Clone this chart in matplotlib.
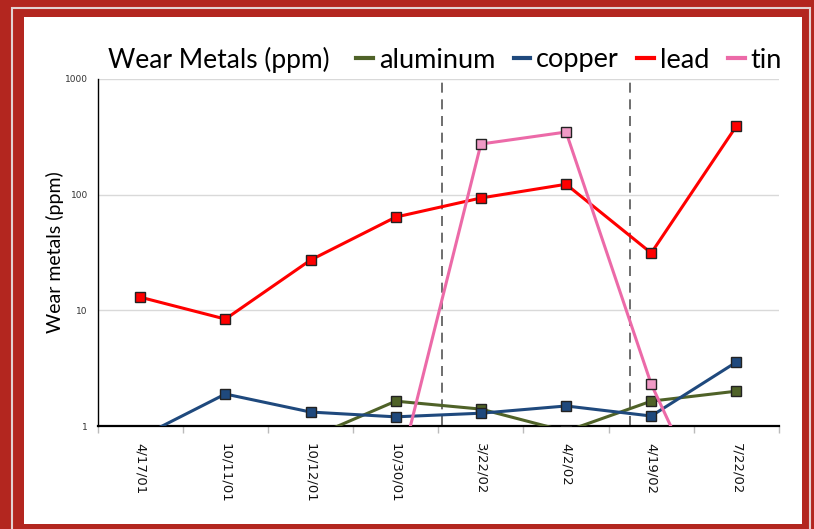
import matplotlib
matplotlib.use("Agg")
import matplotlib.pyplot as plt
from matplotlib.patches import Rectangle
from matplotlib.lines import Line2D
import numpy as np

# sample dates and wear metal readings (ppm)
dates = ["4/17/01", "10/11/01", "10/12/01", "10/30/01", "3/22/02", "4/2/02", "4/19/02", "7/22/02"]
aluminum = [0.7, 0.7, 0.79, 1.64, 1.4, 0.9, 1.64, 2.0]
copper = [0.8, 1.89, 1.32, 1.2, 1.29, 1.49, 1.22, 3.57]
lead = [13.0, 8.4, 27.2, 64.0, 93.6, 123.0, 31.3, 392.0]
tin = [0.3, 0.3, 0.3, 0.31, 274.0, 348.0, 2.3, 0.06]
# service events (dashed markers between samples)
events = [3.54, 5.75]

W, H = 814, 529
fig = plt.figure(figsize=(W / 100, H / 100), dpi=100)
fig.patch.set_facecolor("#b3261f")

# light frame line and white panel
fig.patches.append(Rectangle((12 / W, -0.05), 798 / W, 1 - 8 / H + 0.05, transform=fig.transFigure,
                             fill=False, edgecolor="#e3d2d2", lw=1.5, zorder=-2))
fig.patches.append(Rectangle((24 / W, 1 - 524 / H), 778 / W, 507 / H, transform=fig.transFigure,
                             facecolor="white", edgecolor="none", zorder=-1))

ax = fig.add_axes([97.6 / W, 1 - 426 / H, 681.4 / W, 347 / H])
ax.set_zorder(2)
ax.set_facecolor("none")
x = np.arange(len(dates))

series = [
    (aluminum, "aluminum", "#4f6228", "#4f6228"),
    (copper, "copper", "#1f497d", "#1f497d"),
    (lead, "lead", "#ff0000", "#ff0000"),
    (tin, "tin", "#ec6aa8", "#f09ac6"),
]
for vals, name, col, face in series:
    ax.plot(x, vals, color=col, lw=2.2, marker="s", ms=7, mfc=face, mec="#222222", mew=1,
            solid_joinstyle="round", zorder=3)

for ev in events:
    ax.axvline(ev, color="#555555", lw=1.2, ls=(0, (6, 4)), zorder=2)

ax.set_yscale("log")
ax.set_ylim(1, 1000)
ax.set_xlim(-0.5, len(dates) - 0.5)
ax.set_yticks([1, 10, 100, 1000])
ax.set_yticklabels(["1", "10", "100", "1000"], fontsize=6.5, color="#333333",
                   family=["Liberation Sans Narrow", "DejaVu Sans"])
ax.yaxis.set_minor_locator(matplotlib.ticker.NullLocator())
ax.tick_params(axis="y", length=0, pad=7)
ax.grid(axis="y", color="#d9d9d9", lw=1)
ax.set_axisbelow(True)

ax.set_xticks(x)
ax.set_xticklabels(dates, rotation=270, fontsize=9.5, family="DejaVu Sans", color="#111111")
ax.set_xticks(np.arange(len(dates) + 1) - 0.5, minor=True)
ax.tick_params(axis="x", which="major", length=0, pad=12)
ax.tick_params(axis="x", which="minor", length=5, color="#bbbbbb", width=1)

for s in ["top", "right"]:
    ax.spines[s].set_visible(False)
ax.spines["left"].set_color("black")
ax.spines["left"].set_linewidth(1)
ax.spines["bottom"].set_color("black")
ax.spines["bottom"].set_linewidth(1.6)

fig.text(55 / W, 1 - 252 / H, "Wear metals (ppm)", fontsize=14, family="Lato", rotation=90,
         ha="center", va="center")

fig.text(108 / W, 1 - 60 / H, "Wear Metals (ppm)", fontsize=19, family="Lato", va="center", ha="left")

handles = [Line2D([], [], color=c, lw=3) for _, _, c, _ in series]
fig.legend(handles, [n for _, n, _, _ in series], loc="center left", bbox_to_anchor=(356 / W, 1 - 60 / H),
           ncol=4, frameon=False, prop={"family": "Lato", "size": 19.5}, handlelength=0.62,
           handletextpad=0.22, columnspacing=0.68, borderaxespad=0, borderpad=0)

fig.savefig("out.png", dpi=100, facecolor=fig.get_facecolor())
